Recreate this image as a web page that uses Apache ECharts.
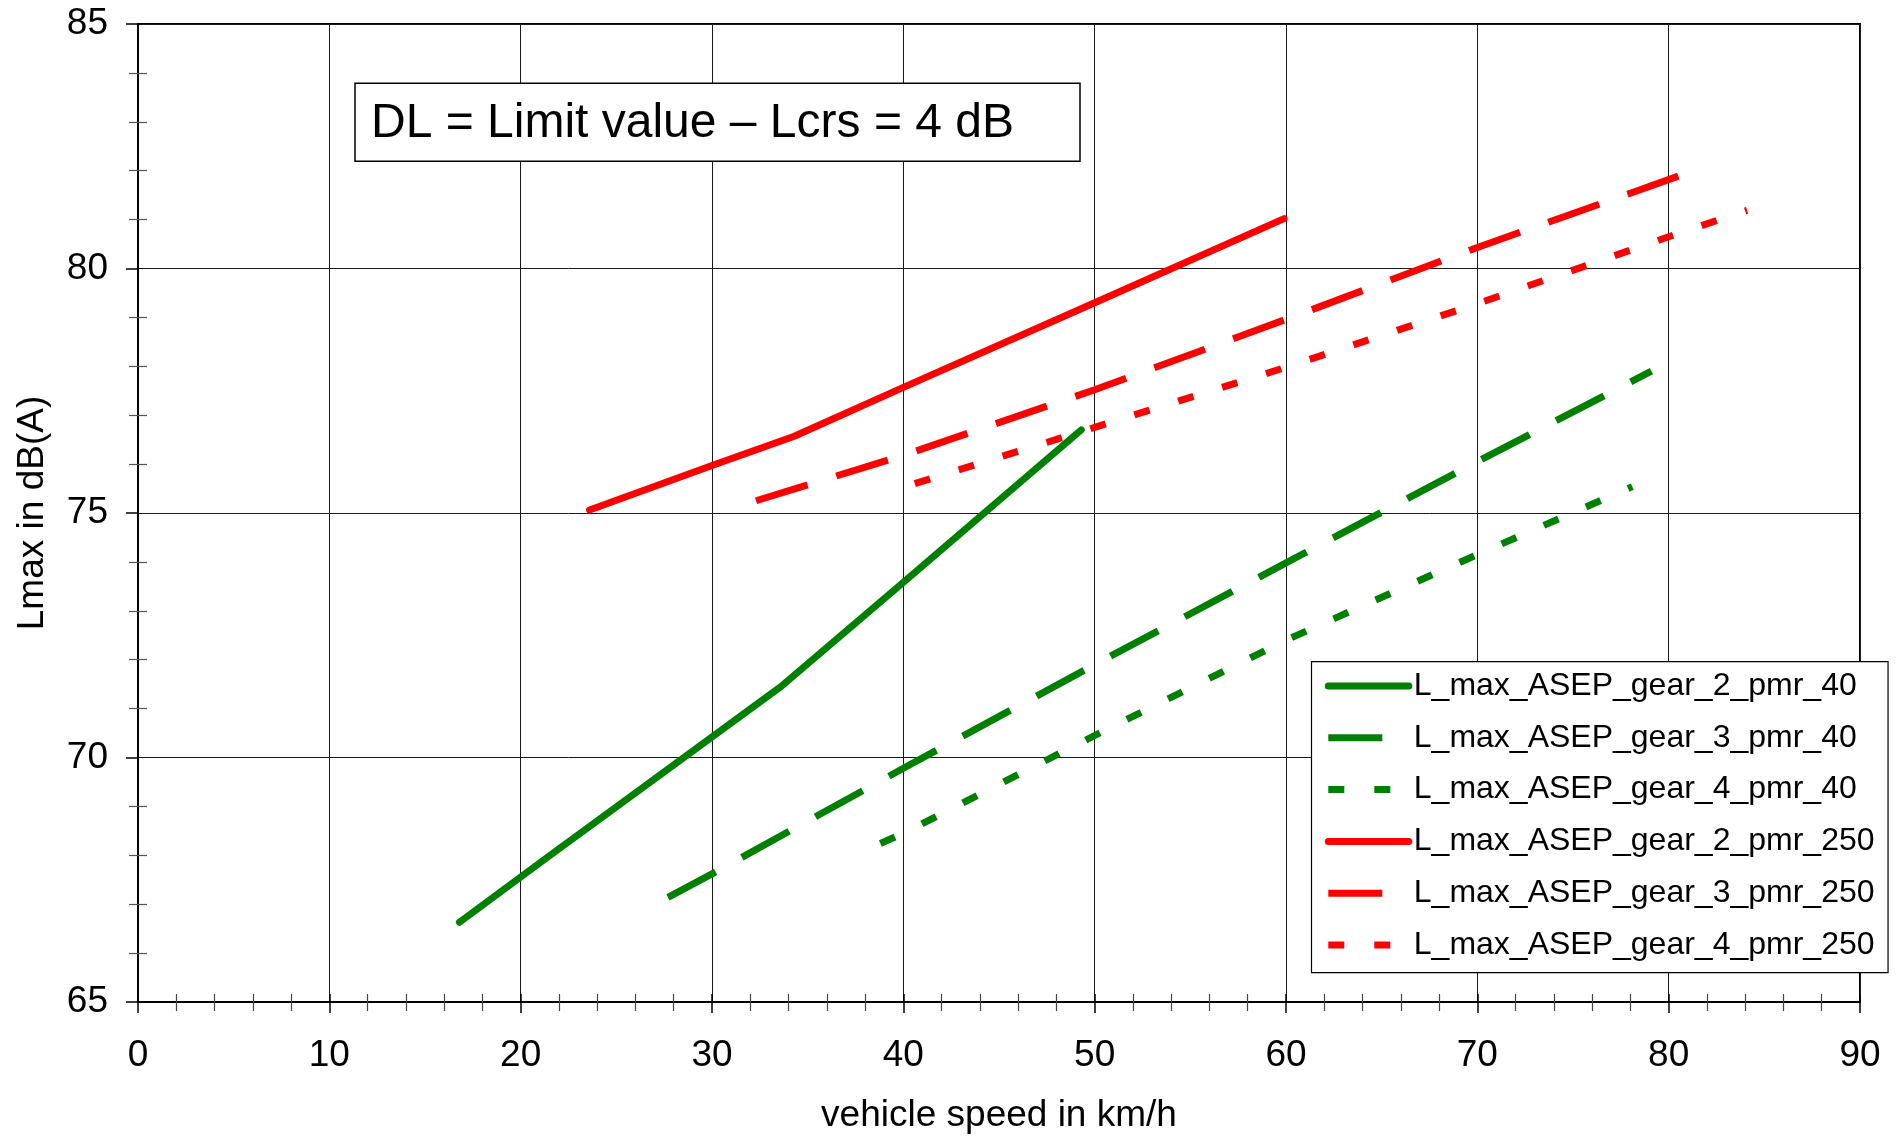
<!DOCTYPE html>
<html>
<head>
<meta charset="utf-8">
<title>Lmax vs vehicle speed</title>
<script src="https://cdn.jsdelivr.net/npm/echarts@6/dist/echarts.min.js"></script>
<style>
  html, body { margin: 0; padding: 0; background: #fff; }
  #chart { width: 1899px; height: 1139px; }
</style>
</head>
<body>
<div id="chart"></div>
<script>
// Measured Lmax curves (speed in km/h, level in dB(A))
const speedG2P40 = [16.8, 21.4, 33.6, 40, 49.3];
const levelG2P40 = [66.63, 67.96, 71.45, 73.58, 76.7];

const speedG3P40 = [27.7, 30, 40, 50, 60, 70, 79.1];
const levelG3P40 = [67.14, 67.62, 69.78, 71.9, 73.98, 76.05, 77.9];

const speedG4P40 = [38.8, 40, 50, 60, 70, 78.1];
const levelG4P40 = [68.24, 68.45, 70.45, 72.4, 74.15, 75.54];

const speedG2P250 = [23.6, 30, 34.3, 40, 50, 59.9];
const levelG2P250 = [75.06, 75.97, 76.57, 77.57, 79.3, 81.02];

const speedG3P250 = [32.3, 40, 50, 60, 70, 80.8];
const levelG3P250 = [75.25, 76.18, 77.52, 78.96, 80.43, 81.93];

const speedG4P250 = [40.6, 50, 60, 70, 80, 84.1];
const levelG4P250 = [75.6, 76.75, 77.98, 79.28, 80.65, 81.19];

const seriesNames = [
  'L_max_ASEP_gear_2_pmr_40',
  'L_max_ASEP_gear_3_pmr_40',
  'L_max_ASEP_gear_4_pmr_40',
  'L_max_ASEP_gear_2_pmr_250',
  'L_max_ASEP_gear_3_pmr_250',
  'L_max_ASEP_gear_4_pmr_250'
];

// axis ranges: [min, max, interval]
const speedAxis = [0, 90, 10];
const levelAxis = [65, 85, 5];

const noteText = 'DL = Limit value \u2013 Lcrs = 4 dB';
const xAxisTitle = 'vehicle speed in km/h';
const yAxisTitle = 'Lmax in dB(A)';

const FONT = "'Liberation Sans', Arial, sans-serif";
const GREEN = '#008000';
const RED = '#ff0000';
const LW = 7;
const DASH = [54, 30];
const DOT = [16, 30];

const curves = [
  { speed: speedG2P40, level: levelG2P40, color: GREEN, dash: 'solid' },
  { speed: speedG3P40, level: levelG3P40, color: GREEN, dash: DASH },
  { speed: speedG4P40, level: levelG4P40, color: GREEN, dash: DOT },
  { speed: speedG2P250, level: levelG2P250, color: RED, dash: 'solid' },
  { speed: speedG3P250, level: levelG3P250, color: RED, dash: DASH },
  { speed: speedG4P250, level: levelG4P250, color: RED, dash: DOT }
];

const series = curves.map((c, i) => ({
  type: 'line',
  name: seriesNames[i],
  data: c.speed.map((s, k) => [s, c.level[k]]),
  symbol: 'none',
  showSymbol: false,
  clip: false,
  z: 3,
  itemStyle: { color: c.color },
  lineStyle: {
    color: c.color,
    width: LW,
    type: c.dash,
    cap: c.dash === 'solid' ? 'round' : 'butt',
    join: 'round'
  }
}));

const legendData = curves.map((c, i) => ({
  name: seriesNames[i],
  itemStyle: { opacity: 0 },
  lineStyle: {
    color: c.color,
    width: LW,
    type: c.dash,
    cap: c.dash === 'solid' ? 'round' : 'butt'
  }
}));

const chart = echarts.init(document.getElementById('chart'), null, { renderer: 'canvas' });

const axisFont = { color: '#000', fontFamily: FONT };

chart.setOption({
  animation: false,
  backgroundColor: '#fff',
  textStyle: { fontFamily: FONT },
  grid: {
    left: 138, right: 39, top: 24, bottom: 136,
    show: true, borderColor: '#000', borderWidth: 2, backgroundColor: 'transparent',
    containLabel: false
  },
  title: {
    text: noteText,
    left: 354.5, top: 83.3,
    padding: [16, 66, 14, 16.5],
    backgroundColor: '#fff',
    borderColor: '#000',
    borderWidth: 1.5,
    textStyle: { fontFamily: FONT, fontSize: 48, fontWeight: 'normal', color: '#000', lineHeight: 48 }
  },
  legend: {
    orient: 'vertical',
    left: 1311.5, top: 661.7,
    padding: [8.3, 13.5, 11.7, 13.3],
    itemWidth: 80.5, itemHeight: 32, itemGap: 19.8,
    backgroundColor: '#fff',
    borderColor: '#000',
    borderWidth: 1.2,
    borderRadius: 0,
    selectedMode: false,
    textStyle: { fontFamily: FONT, fontSize: 32, color: '#000', lineHeight: 32 },
    lineStyle: { width: LW },
    data: legendData
  },
  xAxis: [
    {
      type: 'value', position: 'bottom',
      min: speedAxis[0], max: speedAxis[1], interval: speedAxis[2],
      name: xAxisTitle, nameLocation: 'middle', nameGap: 95,
      nameTextStyle: Object.assign({ fontSize: 37, lineHeight: 37 }, axisFont),
      axisLine: { show: true, onZero: false, lineStyle: { color: '#000', width: 2 } },
      axisTick: { show: true, inside: false, length: 11, lineStyle: { color: '#000', width: 1.5 } },
      minorTick: { show: true, splitNumber: 5, length: 9, lineStyle: { color: '#444', width: 1.2 } },
      axisLabel: Object.assign({ fontSize: 37, lineHeight: 37, margin: 35 }, axisFont),
      splitLine: { show: true, lineStyle: { color: '#1a1a1a', width: 1 } },
      minorSplitLine: { show: false }
    },
    {
      // inner half of the crossing ticks on the speed axis
      type: 'value', position: 'bottom',
      min: speedAxis[0], max: speedAxis[1], interval: speedAxis[2],
      axisLine: { show: false, onZero: false },
      axisTick: { show: true, inside: true, length: 8, lineStyle: { color: '#000', width: 1.5 } },
      minorTick: { show: true, splitNumber: 5, length: 8, lineStyle: { color: '#444', width: 1.2 } },
      axisLabel: { show: false },
      splitLine: { show: false }
    }
  ],
  yAxis: [
    {
      type: 'value', position: 'left',
      min: levelAxis[0], max: levelAxis[1], interval: levelAxis[2],
      name: yAxisTitle, nameLocation: 'middle', nameGap: 87,
      nameTextStyle: Object.assign({ fontSize: 37, lineHeight: 37 }, axisFont),
      axisLine: { show: true, onZero: false, lineStyle: { color: '#000', width: 2 } },
      axisTick: { show: true, inside: false, length: 12, lineStyle: { color: '#000', width: 1.5 } },
      minorTick: { show: true, splitNumber: 5, length: 9, lineStyle: { color: '#555', width: 1.2 } },
      axisLabel: Object.assign({ fontSize: 37, margin: 30 }, axisFont),
      splitLine: { show: true, lineStyle: { color: '#1a1a1a', width: 1 } },
      minorSplitLine: { show: false }
    },
    {
      // inner half of the crossing minor ticks on the level axis
      type: 'value', position: 'left',
      min: levelAxis[0], max: levelAxis[1], interval: levelAxis[2],
      axisLine: { show: false, onZero: false },
      axisTick: { show: false, inside: true },
      minorTick: { show: true, splitNumber: 5, length: 9, lineStyle: { color: '#555', width: 1.2 } },
      axisLabel: { show: false },
      splitLine: { show: false }
    }
  ],
  series: series
});
</script>
</body>
</html>
